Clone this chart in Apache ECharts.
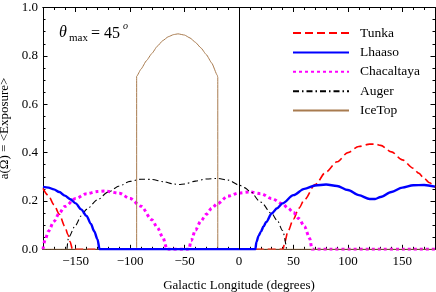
<!DOCTYPE html>
<html>
<head>
<meta charset="utf-8">
<script src="https://cdn.jsdelivr.net/npm/echarts@6/dist/echarts.min.js"></script>
<style>html,body{margin:0;padding:0;background:#fff}#c{width:436px;height:292px}</style>
</head>
<body>
<div id="c"></div>
<script>
const xMajorTicks = [-150, -100, -50, 0, 50, 100, 150];
const xMinorTicks = [-170,-160,-140,-130,-120,-110,-90,-80,-70,-60,-40,-30,-20,-10,10,20,30,40,60,70,80,90,110,120,130,140,160,170];
const seriesNames = ['Tunka', 'Lhaaso', 'Chacaltaya', 'Auger', 'IceTop'];

const tunka = [[-180,0.252],[-175,0.222],[-170,0.185],[-165,0.145],[-160,0.095],[-157,0.06],[-155,0.03],[-153,0],
  [40.5,0],[42,0.03],[45,0.075],[50,0.125],[55,0.17],[60,0.205],[70,0.268],[80,0.32],[90,0.362],[100,0.4],[110,0.425],[120,0.435],[125,0.435],[130,0.43],[140,0.403],[150,0.37],[160,0.335],[165,0.315],[170,0.293],[175,0.275],[180,0.256]];

const lhaaso = [[-180,0.258],[-175,0.255],[-170,0.248],[-165,0.237],[-160,0.222],[-155,0.207],[-150,0.19],[-145,0.165],[-140,0.138],[-136,0.105],[-133,0.075],[-130,0.042],[-128,0],
  [15,0],[16,0.03],[18,0.055],[20,0.072],[22.5,0.094],[25,0.113],[30,0.148],[35,0.17],[40,0.19],[50,0.224],[60,0.25],[70,0.264],[80,0.268],[90,0.262],[100,0.245],[110,0.224],[120,0.208],[125,0.208],[130,0.216],[140,0.237],[150,0.255],[160,0.265],[170,0.266],[180,0.259]];

const chacaltaya = [[-180,0],[-178,0.04],[-175,0.075],[-170,0.115],[-165,0.15],[-160,0.177],[-150,0.21],[-140,0.23],[-130,0.239],[-123,0.241],[-110,0.232],[-100,0.21],[-90,0.178],[-80,0.122],[-75,0.09],[-70,0.05],[-66,0],
  [-46,0],[-44,0.035],[-40,0.08],[-35,0.117],[-30,0.145],[-25,0.17],[-20,0.188],[-10,0.22],[0,0.233],[10,0.237],[20,0.23],[30,0.21],[40,0.188],[45,0.17],[50,0.152],[55,0.127],[60,0.095],[65,0.045],[67,0],[180,0]];

const auger = [[-158,0],[-156.5,0.05],[-150,0.1],[-145,0.138],[-140,0.165],[-130,0.205],[-120,0.237],[-110,0.262],[-100,0.281],[-90,0.29],[-80,0.289],[-70,0.28],[-60,0.27],[-55,0.268],[-50,0.27],[-40,0.282],[-30,0.291],[-20,0.293],[-10,0.286],[0,0.266],[5,0.255],[10,0.24],[20,0.195],[30,0.148],[35,0.12],[40,0.078],[43.7,0]];

const icetop = [[-180,0],[-94,0],[-94,0.715],[-90,0.745],[-85,0.78],[-80,0.81],[-75,0.84],[-70,0.863],[-65,0.879],[-60,0.888],[-56,0.891],[-50,0.886],[-45,0.874],[-40,0.856],[-35,0.833],[-30,0.805],[-25,0.77],[-20,0.72],[-19.5,0.712],[-19.5,0],[180,0]];

const serif = 'Liberation Serif';
const chart = echarts.init(document.getElementById('c'), null, {renderer: 'canvas'});

function xAxisDef(pos, ticks, len, labels) {
  return {
    type: 'value', min: -180, max: 180, position: pos,
    axisLine: {show: true, onZero: false, lineStyle: {color: '#000', width: 1}},
    axisTick: {show: true, inside: true, length: len, customValues: ticks, lineStyle: {color: '#000', width: 1}},
    axisLabel: labels ? {show: true, customValues: ticks, margin: 6, color: '#000', fontFamily: serif, fontSize: 13,
      formatter: v => String(v).replace('-', '\u2212')} : {show: false},
    splitLine: {show: false},
    name: labels ? 'Galactic Longitude (degrees)' : '',
    nameLocation: 'middle', nameGap: 30,
    nameTextStyle: {color: '#000', fontFamily: serif, fontSize: 13}
  };
}
function yAxisDef(pos, labels) {
  return {
    type: 'value', min: 0, max: 1, interval: 0.2, position: pos,
    axisLine: {show: true, onZero: false, lineStyle: {color: '#000', width: 1}},
    axisTick: {show: true, inside: true, length: 4.5, lineStyle: {color: '#000'}},
    minorTick: {show: true, splitNumber: 4, length: 2.5, lineStyle: {color: '#000'}},
    axisLabel: labels ? {show: true, margin: 5, color: '#000', fontFamily: serif, fontSize: 13, formatter: v => v.toFixed(1)} : {show: false},
    splitLine: {show: false}, minorSplitLine: {show: false},
    name: labels ? 'a(\u03a9) = <Exposure>' : '',
    nameLocation: 'middle', nameGap: 27,
    nameTextStyle: {color: '#000', fontFamily: serif, fontSize: 13}
  };
}

const styles = {
  Tunka: {color: '#ff0000', width: 1.6, type: [8, 4]},
  Lhaaso: {color: '#0000ff', width: 2.4, type: 'solid'},
  Chacaltaya: {color: '#ff00ff', width: 3, type: [3, 3]},
  Auger: {color: '#000000', width: 1.1, type: [6, 3, 1.5, 3]},
  IceTop: {color: '#a87b4f', width: 1, type: 'solid'}
};
const dataMap = {Tunka: tunka, Lhaaso: lhaaso, Chacaltaya: chacaltaya, Auger: auger, IceTop: icetop};

const series = seriesNames.map(n => ({
  name: n, type: 'line', data: dataMap[n], symbol: 'none',
  smooth: n === 'IceTop' ? 0.15 : 0.3, smoothMonotone: 'x',
  lineStyle: {color: styles[n].color, width: styles[n].width, type: styles[n].type},
  itemStyle: {color: styles[n].color},
  z: n === 'Lhaaso' ? 3 : 2, animation: false
}));
series.push({
  type: 'line', data: [], markLine: {silent: true, symbol: 'none', label: {show: false},
    lineStyle: {color: '#000', width: 1, type: 'solid'}, data: [{xAxis: 0}]}, animation: false
});

chart.setOption({
  animation: false,
  grid: {left: 43, right: 1, top: 7.5, bottom: 42.7, containLabel: false, outerBoundsMode: 'none'},
  xAxis: [
    xAxisDef('bottom', xMajorTicks, 4.5, true),
    xAxisDef('bottom', xMinorTicks, 2.5, false),
    xAxisDef('top', xMajorTicks, 4.5, false),
    xAxisDef('top', xMinorTicks, 2.5, false)
  ],
  yAxis: [yAxisDef('left', true), yAxisDef('right', false)],
  legend: {
    orient: 'vertical', left: 292, top: 26, padding: 0, itemWidth: 56, itemHeight: 12, itemGap: 5.4,
    itemStyle: {opacity: 0, borderWidth: 0},
    textStyle: {color: '#000', fontFamily: serif, fontSize: 13.5, lineHeight: 12, padding: [0, 0, 0, 6]},
    data: seriesNames
  },
  series: series,
  graphic: [
    {type: 'text', left: 59, top: 25, style: {text: '\u03b8', font: 'italic 16px "Liberation Serif"', fill: '#000'}},
    {type: 'text', left: 69, top: 33, style: {text: 'max', font: '11px "Liberation Serif"', fill: '#000'}},
    {type: 'text', left: 91, top: 25.5, style: {text: '= 45', font: '16px "Liberation Serif"', fill: '#000'}},
    {type: 'text', left: 123, top: 21, style: {text: 'o', font: 'italic 10px "Liberation Serif"', fill: '#000'}}
  ]
});
</script>
</body>
</html>
